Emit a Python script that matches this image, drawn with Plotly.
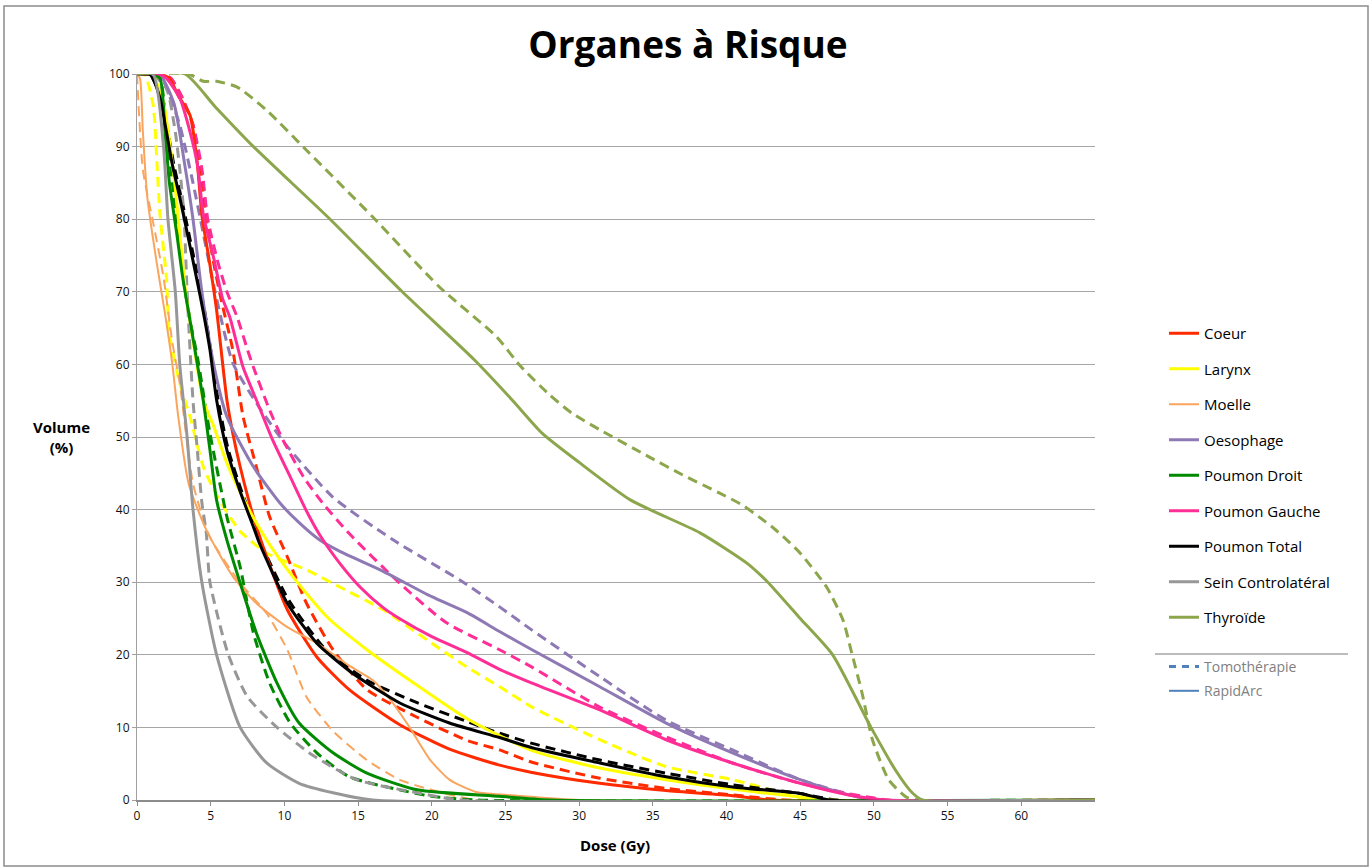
import plotly.graph_objects as go

# ---------------- data (Dose Gy, Volume %) ----------------
organs = ["Coeur", "Larynx", "Moelle", "Oesophage", "Poumon Droit",
          "Poumon Gauche", "Poumon Total", "Sein Controlatéral", "Thyroïde"]
colors = ["#FF2A00", "#FFFF00", "#F9A55E", "#8E79B4", "#008A00",
          "#FF2E96", "#000000", "#979797", "#8CA64B"]

coeur_ra_dose = [0, 1.5, 2.2, 2.8, 3.6, 4.1, 4.4, 4.95, 5.4, 6.1, 6.5, 7.0, 7.9, 8.8, 10.2, 12.2, 14.4, 17.8, 21.2, 24.6, 26.8, 31.4, 35.9, 40.4, 43, 65]
coeur_ra_vol = [100, 100, 99.4, 97, 94.3, 87.5, 80.6, 73.7, 67.5, 55.1, 50.5, 45.9, 39, 33.5, 26.2, 19.7, 15.2, 10.4, 7.0, 4.8, 3.8, 2.3, 1.3, 0.6, 0, 0]
coeur_tomo_dose = [0, 1.5, 2.3, 3.0, 3.8, 4.3, 4.7, 5.2, 5.7, 6.5, 7.2, 8.1, 9.0, 10.2, 11.5, 13.3, 15.6, 19, 22.4, 24.6, 26.8, 31.4, 35.9, 40.4, 44, 65]
coeur_tomo_vol = [100, 100, 99.4, 97, 93, 87, 80, 74, 69, 62, 52.8, 45.9, 39, 33.5, 27.1, 20.7, 15.2, 11.4, 8.2, 6.9, 5.2, 3.0, 1.6, 0.7, 0, 0]

larynx_ra_dose = [0, 1.0, 1.8, 2.5, 3.0, 3.3, 3.9, 4.5, 5.2, 6.1, 7.5, 8.8, 10.6, 12.9, 15.6, 19, 22.4, 26.8, 31.4, 35.9, 40.4, 45, 47, 65]
larynx_ra_vol = [100, 100, 96, 86, 76, 70, 62, 55, 51.5, 46.4, 40.4, 35.8, 30.7, 25.2, 20.7, 15.8, 11.2, 6.8, 4.4, 2.8, 1.5, 0.4, 0, 0]
larynx_tomo_dose = [0, 0.5, 1.1, 1.36, 1.56, 2.0, 2.2, 2.9, 3.6, 4.5, 5.4, 6.3, 7.0, 8.8, 11.5, 13.8, 16.7, 20, 22.4, 24.6, 26.8, 31.4, 35.9, 40.4, 43.8, 46, 65]
larynx_tomo_vol = [100, 100, 95.7, 87.5, 80.6, 71.9, 64.3, 57.4, 52.8, 45.9, 42, 39, 37, 34, 31.7, 29.3, 26.2, 21.6, 18.3, 15.6, 12.8, 8.3, 4.6, 2.8, 1.0, 0, 0]

moelle_ra_dose = [0, 0.2, 0.4, 0.7, 1.36, 1.9, 2.4, 2.8, 3.5, 4.7, 6.5, 8.1, 10.2, 12.2, 14.4, 16, 17.2, 18.5, 19.9, 21.2, 23, 25.8, 30, 65]
moelle_ra_vol = [100, 99.4, 92, 83, 73.7, 67, 60, 52.8, 43.6, 37.2, 30.8, 27.1, 23.8, 21.6, 18.5, 16.5, 13.8, 10, 5.5, 2.8, 1.1, 0.6, 0, 0]
moelle_tomo_dose = [0, 0.4, 1.1, 1.8, 2.4, 2.9, 3.8, 4.95, 7.0, 8.8, 10.2, 11.5, 13.3, 15.6, 17.8, 20, 23, 65]
moelle_tomo_vol = [100, 86.8, 79.5, 72, 63, 57.4, 43.6, 36.2, 29.9, 25.7, 20.7, 14.2, 9.5, 5.5, 2.8, 1.4, 0, 0]

oeso_ra_dose = [0, 1.5, 2.5, 3.2, 3.8, 4.4, 5.2, 6.1, 7.9, 9.7, 11.0, 12.4, 13.8, 16.7, 20, 22.4, 24.6, 26.8, 31.4, 35.9, 40.4, 45, 48.3, 50, 65]
oeso_ra_vol = [100, 100, 96, 88, 80, 70, 60, 52.8, 45.9, 40.9, 38.2, 35.8, 34.2, 31.5, 28, 25.8, 23.2, 20.7, 15.6, 10.6, 6.5, 2.8, 0.7, 0, 0]
oeso_tomo_dose = [0, 1.5, 2.2, 2.9, 3.8, 4.5, 5.3, 6.5, 8.1, 10, 13.3, 17.4, 21.9, 24.6, 26.8, 31.4, 35.9, 40.4, 45, 49, 50, 65]
oeso_tomo_vol = [100, 100, 97, 93, 85, 78, 70, 60.2, 54.7, 49.2, 41.7, 35.8, 30.3, 26.6, 23.4, 17, 11, 6.9, 2.8, 0.4, 0, 0]

pdroit_ra_dose = [0, 1.0, 1.56, 1.9, 2.2, 2.7, 3.1, 3.6, 4.1, 4.5, 4.95, 5.4, 6.1, 7.0, 8.1, 9.5, 11, 13.3, 15.6, 19, 24.6, 28, 65]
pdroit_ra_vol = [100, 100, 99.4, 92, 85, 78, 72, 66, 60, 55, 48.2, 41.3, 35.8, 29.9, 23, 16.1, 10.6, 6.5, 3.7, 1.4, 0.5, 0, 0]
pdroit_tomo_dose = [0, 1.0, 1.6, 2.0, 2.4, 2.8, 3.2, 3.7, 4.1, 4.95, 6.1, 7.0, 7.9, 9.0, 10.4, 12.2, 14.4, 17.8, 20, 23, 65]
pdroit_tomo_vol = [100, 100, 99, 92, 85, 78, 71, 65, 61, 50.5, 39, 32.1, 23, 16.1, 10.6, 6.5, 3.2, 1.4, 0.5, 0, 0]

pgauche_ra_dose = [0, 1.5, 2.0, 2.9, 3.6, 4.1, 4.5, 5.2, 5.8, 6.3, 7.2, 8.1, 9.2, 10.4, 11.5, 12.4, 13.8, 15.2, 16.7, 17.8, 20, 22.4, 24.6, 26.8, 31.4, 35.9, 40.4, 45, 48.3, 50.8, 65]
pgauche_ra_vol = [100, 100, 99.4, 96.7, 92, 87.5, 80.6, 74.7, 69.1, 66.5, 59.6, 55.1, 49.6, 44.5, 39.8, 36.5, 32.5, 29.2, 26.5, 25, 22.5, 20.3, 18, 16.1, 12.4, 8.3, 5.1, 2.3, 0.7, 0, 0]
pgauche_tomo_dose = [0, 1.8, 2.3, 3.0, 3.8, 4.4, 4.8, 5.5, 6.1, 6.8, 7.5, 7.9, 9.0, 9.9, 11.3, 12.6, 14.4, 17.8, 21, 24.6, 26.8, 31.4, 35.9, 40.4, 45, 51, 65]
pgauche_tomo_vol = [100, 100, 99.4, 97, 93, 87, 80, 74, 70, 66.5, 62, 59.6, 53.7, 49.6, 44.5, 40.9, 36.7, 29.9, 24.4, 20.7, 18.3, 12.8, 8.7, 5.1, 2.3, 0, 0]

ptotal_ra_dose = [0, 0.9, 1.56, 2.0, 2.4, 2.9, 3.4, 4.1, 4.5, 4.95, 5.4, 6.1, 7.0, 7.9, 8.3, 10.2, 12.2, 14.6, 17.8, 21.2, 24.6, 26.8, 31.4, 35.9, 40.4, 45, 47, 65]
ptotal_ra_vol = [100, 99.9, 96.7, 92, 87.5, 83, 78.2, 71.3, 67.2, 62, 55.1, 48.2, 42.5, 37.6, 35.4, 27.1, 21.6, 17.5, 13.4, 10.6, 8.6, 7.2, 5.1, 3.2, 1.8, 0.9, 0, 0]
ptotal_tomo_dose = [0, 0.9, 1.6, 2.1, 2.5, 3.0, 3.5, 4.2, 4.6, 5.0, 5.5, 6.2, 7.1, 8.0, 8.4, 10.3, 12.9, 15.6, 19, 22.4, 24.6, 26.8, 31.4, 35.9, 40.4, 45, 47.5, 65]
ptotal_tomo_vol = [100, 99.9, 96.7, 92, 87.5, 83, 78.2, 71.3, 67.2, 62, 55.1, 48.2, 42.5, 37.6, 35.4, 27.5, 20.5, 16.5, 13.4, 10.8, 9.2, 7.8, 5.5, 3.7, 2.1, 0.9, 0, 0]

sein_ra_dose = [0, 1.1, 1.8, 2.1, 2.6, 2.9, 3.4, 3.8, 4.4, 5.4, 7.0, 8.8, 11, 13.3, 16, 65]
sein_ra_vol = [100, 99.9, 90, 80, 70, 60, 50, 40, 30, 20, 10, 5.1, 2.3, 1.0, 0, 0]
sein_tomo_dose = [0, 1.0, 2.0, 2.6, 3.0, 3.2, 3.4, 3.6, 3.8, 4.1, 4.4, 4.7, 4.95, 6.2, 7.5, 9.5, 11.9, 14.9, 19, 22, 65]
sein_tomo_vol = [100, 100, 98, 92, 85, 80, 70, 62, 55, 48, 41, 36.8, 30, 20, 14.2, 10, 6.2, 2.8, 1.0, 0, 0]

thyro_ra_dose = [0, 3.25, 5.3, 7.9, 13.1, 18, 22.9, 25.5, 27.5, 30, 33.5, 38.2, 41.4, 42.8, 45, 47.2, 49.8, 51.5, 52.6, 53.3, 65]
thyro_ra_vol = [100, 100, 95.5, 90, 80, 70, 60.6, 55, 50.5, 46.5, 41.3, 36.8, 32.6, 30, 25, 20, 10, 4, 1, 0, 0]
thyro_tomo_dose = [0, 3.5, 4.5, 5.4, 6.8, 8.8, 11.5, 16, 20.5, 24.4, 26, 28, 29.5, 31.4, 34.8, 37, 39.5, 41.1, 42.2, 43.1, 44.1, 45, 46.8, 47.9, 48.5, 49.2, 49.9, 51, 52.2, 53, 65]
thyro_tomo_vol = [100, 100, 99, 99, 98.2, 95, 89.5, 80.3, 70.7, 63.8, 59.8, 55.8, 53.3, 51, 47.2, 44.8, 42.3, 40.6, 39, 37.6, 35.8, 34, 29.3, 24.8, 20.2, 14.7, 8.3, 2.8, 0.4, 0, 0]

x_ticks = [0, 5, 10, 15, 20, 25, 30, 35, 40, 45, 50, 55, 60]
y_ticks = [0, 10, 20, 30, 40, 50, 60, 70, 80, 90, 100]
method_labels = ["Tomothérapie", "RapidArc"]

ra_series = [(coeur_ra_dose, coeur_ra_vol), (larynx_ra_dose, larynx_ra_vol),
             (moelle_ra_dose, moelle_ra_vol), (oeso_ra_dose, oeso_ra_vol),
             (pdroit_ra_dose, pdroit_ra_vol), (pgauche_ra_dose, pgauche_ra_vol),
             (ptotal_ra_dose, ptotal_ra_vol), (sein_ra_dose, sein_ra_vol),
             (thyro_ra_dose, thyro_ra_vol)]
tomo_series = [(coeur_tomo_dose, coeur_tomo_vol), (larynx_tomo_dose, larynx_tomo_vol),
               (moelle_tomo_dose, moelle_tomo_vol), (oeso_tomo_dose, oeso_tomo_vol),
               (pdroit_tomo_dose, pdroit_tomo_vol), (pgauche_tomo_dose, pgauche_tomo_vol),
               (ptotal_tomo_dose, ptotal_tomo_vol), (sein_tomo_dose, sein_tomo_vol),
               (thyro_tomo_dose, thyro_tomo_vol)]

# ---------------- figure ----------------
fig = go.Figure()
for i, name in enumerate(organs):
    w = 2 if name == "Moelle" else 3
    d, v = tomo_series[i]
    fig.add_trace(go.Scatter(x=d, y=v, mode="lines", name=name + " (Tomo)",
                             line=dict(color=colors[i], width=w, dash="10px,6px",
                                       shape="spline", smoothing=0.6),
                             showlegend=False, hoverinfo="skip"))
for i, name in enumerate(organs):
    w = 2 if name == "Moelle" else 3
    d, v = ra_series[i]
    fig.add_trace(go.Scatter(x=d, y=v, mode="lines", name=name,
                             line=dict(color=colors[i], width=w,
                                       shape="spline", smoothing=0.6),
                             legend="legend", legendgroup=name, showlegend=True))

# method legend (dummy traces)
fig.add_trace(go.Scatter(x=[None], y=[None], mode="lines", name=method_labels[0],
                         line=dict(color="#4F81BD", width=3, dash="7px,6px"),
                         legend="legend2", legendgroup="m1"))
fig.add_trace(go.Scatter(x=[None], y=[None], mode="lines", name=method_labels[1],
                         line=dict(color="#4F81BD", width=2),
                         legend="legend2", legendgroup="m2"))

L, R, T, B = 137, 1095, 74, 800
W, H = 1372, 868
pw, ph = R - L, B - T

def px(xp):
    return (xp - L) / pw

def py(yp):
    return (B - yp) / ph

fig.update_layout(
    width=W, height=H,
    margin=dict(l=L, r=W - R, t=T, b=H - B),
    paper_bgcolor="white", plot_bgcolor="white",
    font=dict(family="Open Sans, Arial", color="#000"),
    title=dict(text="<b>Organes à Risque</b>", x=688 / W, xref="container", y=1 - 45 / H,
               yanchor="middle", xanchor="center",
               font=dict(size=37, family="Open Sans", color="#000")),
    xaxis=dict(range=[0, 65], tickvals=x_ticks, ticktext=[str(t) for t in x_ticks],
               showgrid=False, zeroline=False, showline=True, linecolor="#8C8C8C",
               linewidth=2, ticks="outside", ticklen=4, tickcolor="#8C8C8C",
               tickfont=dict(size=12, color="#111")),
    yaxis=dict(range=[0, 100], tickvals=y_ticks, ticktext=[str(t) for t in y_ticks],
               showgrid=True, gridcolor="#A6A6A6", gridwidth=1, zeroline=False,
               showline=True, linecolor="#A0A0A0", linewidth=1,
               ticks="outside", ticklen=4, tickcolor="#A0A0A0",
               tickfont=dict(size=12, color="#111")),
    legend=dict(x=px(1164), y=py(317), xanchor="left", yanchor="top",
                font=dict(size=15, family="Open Sans", color="#000"),
                tracegroupgap=13, bgcolor="rgba(0,0,0,0)", itemwidth=30),
    legend2=dict(x=px(1164), y=py(651), xanchor="left", yanchor="top",
                 font=dict(size=14, family="Open Sans", color="#808080"),
                 tracegroupgap=3, bgcolor="rgba(0,0,0,0)", itemwidth=30),
    showlegend=True,
)

# axis titles
fig.add_annotation(text="<b>Volume<br>(%)</b>", x=px(61), y=py(437), xref="paper", yref="paper",
                   xanchor="center", yanchor="middle",
                   showarrow=False, font=dict(size=15, family="Open Sans", color="#000"),
                   align="center")
fig.add_annotation(text="<b>Dose (Gy)</b>", x=px(615), y=py(845), xref="paper", yref="paper",
                   xanchor="center", yanchor="middle",
                   showarrow=False, font=dict(size=15, family="Open Sans", color="#000"))

# legend separator + outer frame
fig.add_shape(type="line", xref="paper", yref="paper", x0=px(1155), x1=px(1348),
              y0=py(654), y1=py(654), line=dict(color="#A6A6A6", width=1.5))
fig.add_shape(type="rect", xref="paper", yref="paper", x0=px(4), x1=px(1368),
              y0=py(866), y1=py(6), line=dict(color="#8C8C8C", width=1.5), layer="below")

fig.write_html("out.html", config={"displayModeBar": False},
               post_script="document.body.style.margin='0';document.body.style.overflow='hidden';")
